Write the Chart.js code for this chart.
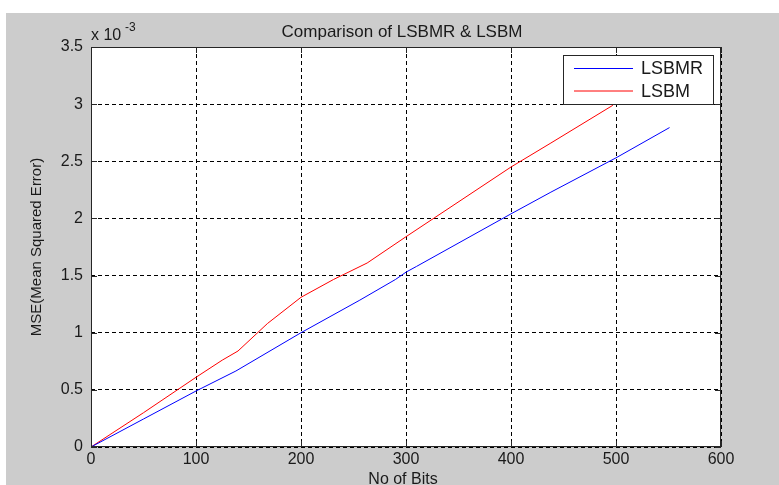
<!DOCTYPE html>
<html>
<head>
<meta charset="utf-8">
<script src="https://cdn.jsdelivr.net/npm/chart.js@4"></script>
<style>
  html, body { margin: 0; padding: 0; background: #fff; }
  canvas { display: block; }
</style>
</head>
<body>
<canvas id="myChart" width="779" height="485"></canvas>
<script>
// values, y in units of 10^-3
var bitsLsbmr = [0, 50, 100, 138, 200, 256, 290, 300, 310, 400, 438, 500, 551];
var mseLsbmr = [0, 0.245, 0.49, 0.665, 1.0, 1.285, 1.466, 1.53, 1.58, 2.04, 2.23, 2.53, 2.795];
var bitsLsbm = [0, 50, 100, 125, 140, 168, 200, 231, 263, 300, 400, 438, 497];
var mseLsbm = [0, 0.3, 0.61, 0.76, 0.84, 1.08, 1.31, 1.466, 1.61, 1.84, 2.45, 2.66, 2.99];
var seriesNames = ['LSBMR', 'LSBM'];
var xTicks = { min: 0, max: 600, step: 100 };
var yTicks = { min: 0, max: 3.5, step: 0.5 };

var textColor = '#1a1a1a';

function toPoints(xs, ys) {
  return xs.map(function (x, i) { return { x: x, y: ys[i] }; });
}

var matlabLook = {
  id: 'matlabLook',
  beforeDraw: function (chart) {
    var ctx = chart.ctx, a = chart.chartArea;
    ctx.save();
    ctx.fillStyle = '#fff';
    ctx.fillRect(0, 0, chart.width, chart.height);
    ctx.fillStyle = '#cccccc';
    ctx.fillRect(6, 13, chart.width - 6, chart.height - 13);
    ctx.fillStyle = '#fff';
    ctx.fillRect(a.left, a.top, a.right - a.left, a.bottom - a.top);
    ctx.restore();
  },
  afterDraw: function (chart) {
    var ctx = chart.ctx, a = chart.chartArea;
    var xs = chart.scales.x, ys = chart.scales.y;
    ctx.save();
    // axes box
    ctx.strokeStyle = '#262626';
    ctx.lineWidth = 1;
    ctx.strokeRect(a.left + 0.5, a.top + 0.5, a.right - a.left - 1, a.bottom - a.top - 1);
    // inside tick marks
    ctx.beginPath();
    xs.ticks.forEach(function (t) {
      var px = Math.round(xs.getPixelForValue(t.value)) + 0.5;
      ctx.moveTo(px, a.bottom); ctx.lineTo(px, a.bottom - 6);
      ctx.moveTo(px, a.top); ctx.lineTo(px, a.top + 6);
    });
    ys.ticks.forEach(function (t) {
      var py = Math.round(ys.getPixelForValue(t.value)) + 0.5;
      ctx.moveTo(a.left, py); ctx.lineTo(a.left + 6, py);
      ctx.moveTo(a.right, py); ctx.lineTo(a.right - 6, py);
    });
    ctx.stroke();

    // legend
    var lx = a.right - 158, ly = a.top + 8, lw = 150, lh = 49;
    ctx.fillStyle = '#fff';
    ctx.fillRect(lx, ly, lw, lh);
    ctx.strokeStyle = '#262626';
    ctx.strokeRect(lx + 0.5, ly + 0.5, lw, lh);
    ctx.font = '18px "Liberation Sans", Arial, sans-serif';
    ctx.textBaseline = 'middle';
    ctx.textAlign = 'left';
    chart.data.datasets.forEach(function (ds, i) {
      var yy = ly + 13.5 + i * 22.5;
      ctx.strokeStyle = ds.borderColor;
      ctx.beginPath();
      ctx.moveTo(lx + 11, yy); ctx.lineTo(lx + 70, yy);
      ctx.stroke();
      ctx.fillStyle = textColor;
      ctx.fillText(ds.label, lx + 78, yy + 1);
    });

    // title
    ctx.fillStyle = textColor;
    ctx.textAlign = 'center';
    ctx.textBaseline = 'alphabetic';
    ctx.font = '17px "Liberation Sans", Arial, sans-serif';
    ctx.fillText('Comparison of LSBMR & LSBM', (a.left + a.right) / 2 - 4, 37);
    // x label
    ctx.font = '16px "Liberation Sans", Arial, sans-serif';
    ctx.fillText('No of Bits', (a.left + a.right) / 2 - 3, 484);
    // y label
    ctx.save();
    ctx.translate(41, (a.top + a.bottom) / 2);
    ctx.rotate(-Math.PI / 2);
    ctx.font = '15px "Liberation Sans", Arial, sans-serif';
    ctx.fillText('MSE(Mean Squared Error)', 0, 0);
    ctx.restore();
    // exponent
    ctx.textAlign = 'left';
    ctx.font = '16px "Liberation Sans", Arial, sans-serif';
    ctx.fillText('x 10', a.left, 40);
    ctx.font = '12px "Liberation Sans", Arial, sans-serif';
    ctx.fillText('-3', a.left + 34, 31);
    ctx.restore();
  }
};

var ctx = document.getElementById('myChart').getContext('2d');
var config = {
  type: 'line',
  data: {
    datasets: [{
      label: seriesNames[0],
      data: toPoints(bitsLsbmr, mseLsbmr),
      borderColor: '#0000ff',
      borderWidth: 1,
      pointRadius: 0,
      fill: false,
      tension: 0
    }, {
      label: seriesNames[1],
      data: toPoints(bitsLsbm, mseLsbm),
      borderColor: '#ff0000',
      borderWidth: 1,
      pointRadius: 0,
      fill: false,
      tension: 0
    }]
  },
  options: {
    responsive: false,
    animation: false,
    devicePixelRatio: 1,
    layout: { padding: { top: 47, right: 58, left: 0, bottom: 0 } },
    plugins: {
      legend: { display: false },
      title: { display: false },
      tooltip: { enabled: false }
    },
    scales: {
      x: {
        type: 'linear',
        min: xTicks.min,
        max: xTicks.max,
        ticks: {
          stepSize: xTicks.step,
          color: textColor,
          padding: 3,
          maxRotation: 0,
          font: { size: 16, family: '"Liberation Sans", Arial, sans-serif' }
        },
        grid: { color: '#000', lineWidth: 1, drawTicks: false },
        border: { display: false, dash: [4, 3] },
        afterFit: function (s) { s.height = 38; }
      },
      y: {
        type: 'linear',
        min: yTicks.min,
        max: yTicks.max,
        ticks: {
          stepSize: yTicks.step,
          color: textColor,
          padding: 8,
          font: { size: 16, family: '"Liberation Sans", Arial, sans-serif' },
          callback: function (v) { return String(Math.round(v * 10) / 10); }
        },
        grid: { color: '#000', lineWidth: 1, drawTicks: false },
        border: { display: false, dash: [4, 3] },
        afterFit: function (s) { s.width = 91; }
      }
    }
  },
  plugins: [matlabLook]
};
var myChart = new Chart(ctx, config);
</script>
</body>
</html>
